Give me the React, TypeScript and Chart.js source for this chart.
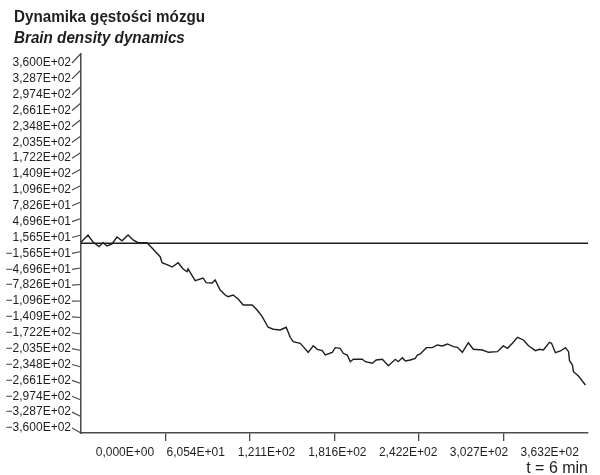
import React, { useEffect, useRef } from "react";
import { Chart, registerables } from "chart.js";

Chart.register(...registerables);

const titleText = "Dynamika gęstości mózgu";
const subtitleText = "Brain density dynamics";
const xAxisTitle = "t = 6 min";

const timeS = [0, 5.0, 8.6, 12.9, 15.8, 18.6, 22.2, 25.8, 29.4, 33.7, 37.3, 40.9, 47.3, 50.9, 56.7, 58.1, 62.4, 65.3, 69.6, 73.2, 76.0, 76.7, 81.8, 87.5, 89.6, 93.9, 96.1, 99.7, 103.3, 105.4, 109.0, 112.6, 116.2, 122.6, 126.2, 129.8, 134.1, 137.7, 142.7, 147.0, 149.9, 152.0, 157.1, 159.2, 162.8, 166.4, 169.3, 172.8, 175.0, 180.0, 182.2, 185.7, 187.9, 190.8, 192.9, 195.1, 201.5, 203.7, 208.7, 211.5, 215.9, 220.2, 225.2, 227.3, 230.2, 232.4, 235.9, 239.5, 241.0, 243.1, 247.4, 251.7, 255.3, 258.9, 262.5, 266.8, 269.7, 273.2, 277.5, 281.1, 287.6, 291.9, 298.3, 302.6, 305.5, 309.1, 312.7, 317.0, 320.6, 325.6, 328.5, 331.3, 335.6, 337.1, 339.9, 343.5, 347.1, 349.3, 350.0, 352.1, 352.8, 356.4, 361.4];

const density = [1.8, 15.6, 2.4, -6.5, 1.0, -5.2, -1.4, 11.9, 4.8, 15.6, 6.2, 1.0, 1.0, -9.0, -25.5, -36.9, -41.3, -45.1, -36.9, -48.8, -54.0, -48.8, -71.0, -65.9, -74.8, -75.4, -69.7, -88.7, -98.2, -101.4, -98.2, -105.8, -117.2, -117.2, -126.7, -139.3, -159.4, -163.2, -164.6, -159.4, -178.4, -186.8, -189.8, -196.2, -206.9, -194.4, -201.2, -203.8, -212.0, -206.9, -198.1, -199.3, -208.8, -212.0, -224.7, -220.2, -220.2, -224.7, -227.7, -221.5, -220.2, -232.3, -220.2, -224.7, -217.1, -223.4, -221.5, -218.3, -212.0, -210.1, -198.1, -198.1, -193.0, -194.9, -191.1, -196.2, -197.4, -206.9, -188.7, -201.2, -202.5, -206.9, -205.7, -194.9, -199.3, -189.8, -178.4, -183.5, -194.4, -203.8, -201.2, -202.5, -187.9, -189.8, -207.6, -204.4, -198.1, -205.7, -222.8, -231.0, -243.7, -251.8, -268.9];

const baselineT = [0, 363.24];
const baselineV = [0, 0];

const xMin = 0;
const xMax = 363.24;
const xTickValues = [60.54, 121.08, 181.62, 242.16, 302.7];
const xTickLabels = ["0,000E+00", "6,054E+01", "1,211E+02", "1,816E+02", "2,422E+02", "3,027E+02", "3,632E+02"];

const yMin = -360;
const yMax = 360;
const yTickValues = [360, 328.7, 297.4, 266.1, 234.8, 203.5, 172.2, 140.9, 109.6, 78.26, 46.96, 15.65, -15.65, -46.96, -78.26, -109.6, -140.9, -172.2, -203.5, -234.8, -266.1, -297.4, -328.7, -360];
const yTickLabels = ["3,600E+02", "3,287E+02", "2,974E+02", "2,661E+02", "2,348E+02", "2,035E+02", "1,722E+02", "1,409E+02", "1,096E+02", "7,826E+01", "4,696E+01", "1,565E+01", "\u22121,565E+01", "\u22124,696E+01", "\u22127,826E+01", "\u22121,096E+02", "\u22121,409E+02", "\u22121,722E+02", "\u22122,035E+02", "\u22122,348E+02", "\u22122,661E+02", "\u22122,974E+02", "\u22123,287E+02", "\u22123,600E+02"];

const TICK_FONT = "'Liberation Sans', Arial, sans-serif";
const TITLE_FONT = "'Liberation Sans', Arial, sans-serif";
const INK = "#1e1e1e";
const AXIS = "#4a4a4a";

const hookPlugin = {
  id: "tickHooks",
  afterDraw(chart: any) {
    const y = chart.scales.y;
    const y2 = chart.scales.y2;
    if (!y || !y2) return;
    const ctx = chart.ctx;
    const x1 = y2.right - 9;
    const xEnd = chart.chartArea.left;
    ctx.save();
    ctx.strokeStyle = AXIS;
    ctx.lineWidth = 1.2;
    yTickValues.forEach((v) => {
      ctx.beginPath();
      ctx.moveTo(x1, y2.getPixelForValue(v));
      ctx.lineTo(xEnd, y.getPixelForValue(v));
      ctx.stroke();
    });
    ctx.restore();
  },
};

export default function App() {
  const ref = useRef<HTMLCanvasElement | null>(null);

  useEffect(() => {
    if (!ref.current) return;
    const chart = new Chart(ref.current, {
      type: "line",
      data: {
        datasets: [
          {
            data: timeS.map((t, i) => ({ x: t, y: density[i] })),
            borderColor: INK,
            borderWidth: 1.4,
            pointRadius: 0,
            tension: 0,
            xAxisID: "x",
            yAxisID: "y",
          },
          {
            data: baselineT.map((t, i) => ({ x: t, y: baselineV[i] })),
            borderColor: INK,
            borderWidth: 1.4,
            pointRadius: 0,
            xAxisID: "x",
            yAxisID: "y",
          },
        ],
      },
      options: {
        animation: false,
        responsive: false,
        events: [],
        layout: { padding: { top: 53.5, left: 0, right: 12, bottom: 0 } },
        plugins: { legend: { display: false }, tooltip: { enabled: false }, title: { display: false } },
        scales: {
          x: {
            type: "linear",
            position: "bottom",
            weight: 0,
            min: xMin,
            max: xMax,
            afterBuildTicks: (s: any) => {
              s.ticks = xTickValues.map((v) => ({ value: v }));
            },
            afterFit: (s: any) => {
              s.height = 0;
            },
            ticks: { display: false },
            grid: { display: true, drawOnChartArea: false, drawTicks: true, tickLength: 8, color: AXIS, lineWidth: 1.3 },
            border: { display: true, color: AXIS, width: 1.5 },
          },
          x2: {
            type: "linear",
            position: "bottom",
            weight: 1,
            min: -0.62,
            max: 6.54,
            afterBuildTicks: (s: any) => {
              s.ticks = xTickLabels.map((_, i) => ({ value: i }));
            },
            afterFit: (s: any) => {
              s.height = 42;
            },
            grid: { display: false, drawTicks: false },
            border: { display: false },
            ticks: {
              autoSkip: false,
              maxRotation: 0,
              padding: 12,
              color: INK,
              font: { family: TICK_FONT, size: 12 },
              callback: (_v: any, i: number) => xTickLabels[i],
            },
            title: {
              display: true,
              text: xAxisTitle,
              align: "end",
              color: INK,
              font: { family: TICK_FONT, size: 16, lineHeight: 1 },
              padding: { top: 0, bottom: -2 },
            },
          },
          y: {
            type: "linear",
            position: "left",
            weight: 0,
            min: yMin,
            max: yMax,
            afterBuildTicks: (s: any) => {
              s.ticks = yTickValues.map((v) => ({ value: v }));
            },
            afterFit: (s: any) => {
              s.width = 0;
            },
            ticks: { display: false },
            grid: { display: false, drawTicks: false },
            border: { display: true, color: AXIS, width: 1.5 },
          },
          y2: {
            type: "linear",
            position: "left",
            weight: 1,
            min: -369.9,
            max: 378.7,
            afterBuildTicks: (s: any) => {
              s.ticks = yTickValues.map((v) => ({ value: v }));
            },
            afterFit: (s: any) => {
              s.width = 81;
            },
            grid: { display: false, drawTicks: false },
            border: { display: false },
            ticks: {
              autoSkip: false,
              padding: 10,
              color: INK,
              font: { family: TICK_FONT, size: 12 },
              callback: (_v: any, i: number) => yTickLabels[i],
            },
          },
        },
      },
      plugins: [hookPlugin],
    } as any);
    return () => chart.destroy();
  }, []);

  const titleStyle: React.CSSProperties = {
    position: "absolute",
    left: 14,
    font: `bold 17px ${TITLE_FONT}`,
    lineHeight: "19px",
    color: INK,
    whiteSpace: "nowrap",
    transformOrigin: "left center",
    transform: "scaleX(0.895)",
  };

  return (
    <div style={{ position: "fixed", left: 0, top: 0, width: 600, height: 475, background: "#fff" }}>
      <canvas ref={ref} width={600} height={475} style={{ width: 600, height: 475, display: "block" }} />
      <div style={{ ...titleStyle, top: 7 }}>{titleText}</div>
      <div style={{ ...titleStyle, top: 28, fontStyle: "italic" }}>{subtitleText}</div>
    </div>
  );
}
